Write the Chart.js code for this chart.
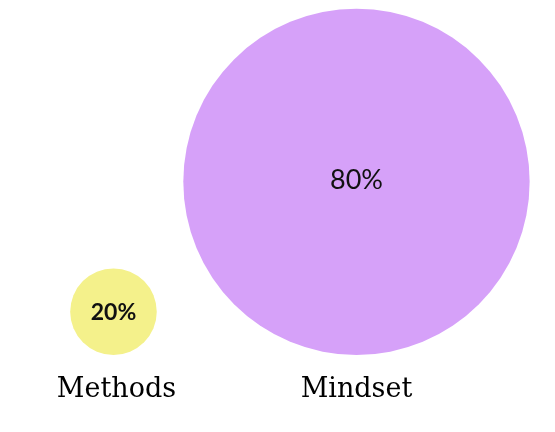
<!DOCTYPE html>
<html>
<head>
<meta charset="utf-8">
<script src="https://cdn.jsdelivr.net/npm/chart.js@4"></script>
<style>
html,body{margin:0;padding:0;background:#fff;}
#wrap{width:555px;height:432px;position:relative;}
</style>
</head>
<body>
<div id="wrap"><canvas id="c"></canvas></div>
<script>
const categories = ['Methods', 'Mindset'];
const values = [20, 80];
const positions = [1, 2];
const colors = ['#F4F18B', '#D6A1F9'];

const PX_PER_PERCENT = 355 / 164; // radius scale so bubbles sit on the baseline

const labelPlugin = {
  id: 'labels',
  afterDatasetsDraw(chart) {
    const ctx = chart.ctx;
    const meta = chart.getDatasetMeta(0);
    const y0 = chart.scales.y.getPixelForValue(0);
    ctx.save();
    ctx.textAlign = 'center';
    meta.data.forEach((el, i) => {
      ctx.fillStyle = '#111';
      ctx.textBaseline = 'middle';
      ctx.font = i === 0 ? 'bold 23px Lato' : '27px Lato';
      ctx.fillText(values[i] + '%', el.x, el.y + (i === 0 ? 1 : -2));
      ctx.textBaseline = 'alphabetic';
      ctx.font = '27px "DejaVu Serif"';
      ctx.fillStyle = '#000';
      ctx.fillText(categories[i], el.x + (i === 0 ? 3 : 0), y0 + 42);
    });
    ctx.restore();
  }
};

new Chart(document.getElementById('c'), {
  type: 'bubble',
  data: {
    datasets: [{
      data: values.map((v, i) => ({ x: positions[i], y: v, r: v * PX_PER_PERCENT })),
      backgroundColor: colors,
      hoverBackgroundColor: colors,
      borderWidth: 0,
      hoverBorderWidth: 0,
      hoverRadius: 0,
      clip: false
    }]
  },
  options: {
    responsive: true,
    maintainAspectRatio: false,
    animation: false,
    layout: { autoPadding: false, padding: { top: 0, left: 0, right: 0, bottom: 77 } },
    scales: {
      x: { type: 'linear', display: false, min: 0.533, max: 2.817 },
      y: { type: 'linear', display: false, min: 0, max: 164 }
    },
    plugins: {
      legend: { display: false },
      tooltip: { enabled: false }
    }
  },
  plugins: [labelPlugin]
});
</script>
</body>
</html>
